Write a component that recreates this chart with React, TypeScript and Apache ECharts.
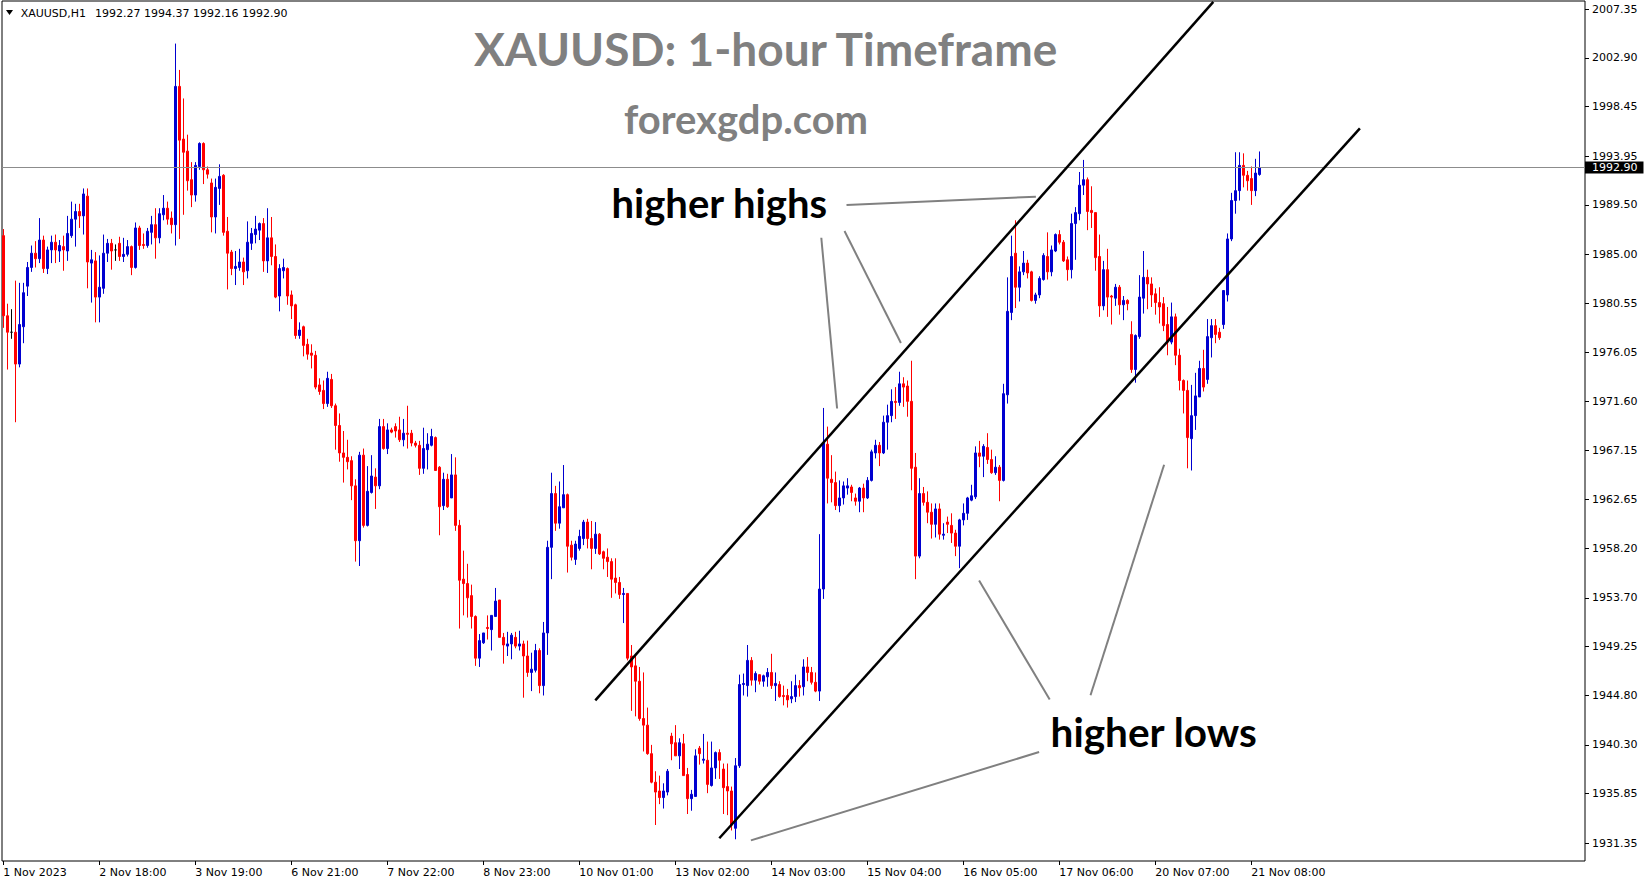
import React, { useEffect, useRef } from "react";
import * as echarts from "echarts";

type Candle = [number, number, number, number]; // open, high, low, close

// 1 Nov - 3 Nov (H1 bars)
const week1: Candle[] = [
  [1986.7, 1987.3, 1978.3, 1979.4], [1979.4, 1980.5, 1974.5, 1977.9], [1977.9, 1980.0, 1977.3, 1977.9],
  [1977.9, 1982.6, 1969.7, 1975.0], [1975.0, 1982.4, 1974.7, 1978.6], [1978.4, 1982.4, 1976.9, 1981.5],
  [1982.1, 1984.3, 1981.2, 1983.8], [1983.8, 1985.8, 1983.4, 1985.1], [1985.1, 1986.2, 1983.8, 1984.6],
  [1984.6, 1988.3, 1984.2, 1986.3], [1986.3, 1986.7, 1983.3, 1983.7], [1983.7, 1985.7, 1983.2, 1985.4],
  [1985.4, 1986.7, 1984.2, 1986.1], [1986.1, 1986.8, 1984.2, 1985.4], [1985.3, 1986.3, 1984.3, 1985.8],
  [1985.7, 1986.7, 1983.5, 1985.4], [1985.3, 1988.5, 1984.4, 1986.9], [1986.7, 1989.8, 1986.5, 1988.2],
  [1988.2, 1989.6, 1985.7, 1988.9], [1988.9, 1989.6, 1987.4, 1988.5], [1988.5, 1991.0, 1986.8, 1990.5],
  [1990.3, 1991.0, 1981.9, 1984.3], [1984.2, 1985.4, 1980.6, 1984.5], [1984.4, 1985.2, 1978.8, 1981.1],
  [1981.1, 1984.9, 1978.8, 1982.0], [1981.9, 1986.8, 1981.4, 1985.1], [1985.1, 1986.4, 1984.3, 1986.0],
  [1986.0, 1986.4, 1983.6, 1985.3], [1985.4, 1985.9, 1984.4, 1985.4], [1986.0, 1986.6, 1984.4, 1984.8],
  [1984.8, 1986.5, 1984.3, 1985.0], [1985.0, 1986.3, 1984.8, 1985.7], [1985.7, 1985.8, 1983.1, 1983.8],
  [1983.8, 1987.9, 1983.7, 1987.4], [1987.4, 1987.6, 1985.4, 1985.8], [1985.9, 1986.9, 1985.5, 1985.8],
  [1985.8, 1987.4, 1985.6, 1987.1], [1987.0, 1988.5, 1985.9, 1987.7], [1987.7, 1989.2, 1984.6, 1986.5],
  [1986.5, 1989.2, 1986.0, 1988.7], [1988.6, 1990.4, 1988.1, 1989.2], [1989.2, 1989.8, 1987.7, 1988.2],
  [1988.3, 1988.9, 1986.9, 1987.7], [1987.7, 2004.2, 1985.8, 2000.3], [2000.3, 2001.8, 1986.4, 1995.4],
  [1995.5, 1999.2, 1988.6, 1994.3], [1994.4, 1995.9, 1990.8, 1991.7], [1991.8, 1993.4, 1989.3, 1990.4],
  [1990.4, 1993.4, 1989.8, 1993.1], [1993.0, 1995.2, 1992.7, 1995.1], [1995.1, 1995.2, 1991.4, 1992.7],
  [1992.7, 1993.0, 1991.9, 1992.3],
];

// 6 Nov - 10 Nov
const week2: Candle[] = [
  [1991.5, 1991.9, 1987.0, 1988.4], [1988.4, 1991.9, 1986.9, 1991.1], [1991.0, 1993.2, 1989.5, 1992.1],
  [1992.2, 1992.3, 1986.7, 1987.0], [1987.1, 1988.4, 1981.8, 1985.1], [1985.2, 1985.4, 1983.1, 1983.7],
  [1983.7, 1985.3, 1982.2, 1983.9], [1983.8, 1985.5, 1983.5, 1984.3], [1984.3, 1984.7, 1982.2, 1983.4],
  [1983.5, 1988.0, 1982.8, 1986.1], [1986.0, 1987.4, 1985.4, 1986.9], [1986.8, 1988.5, 1986.0, 1987.3],
  [1987.2, 1987.9, 1986.3, 1987.8], [1987.8, 1988.3, 1983.4, 1984.4], [1984.4, 1989.2, 1983.3, 1986.5],
  [1986.5, 1988.4, 1984.0, 1984.8], [1984.8, 1985.9, 1981.0, 1981.1], [1981.2, 1984.1, 1979.8, 1983.7],
  [1983.5, 1984.6, 1982.8, 1983.8], [1983.7, 1983.8, 1980.4, 1981.2], [1981.3, 1981.7, 1979.1, 1980.3],
  [1980.4, 1980.5, 1977.3, 1977.6], [1977.6, 1978.8, 1977.3, 1978.1], [1978.4, 1978.5, 1975.7, 1976.7],
  [1976.8, 1977.3, 1975.4, 1975.9], [1976.0, 1976.8, 1974.6, 1975.8], [1975.8, 1976.2, 1972.7, 1972.9],
  [1973.1, 1973.7, 1972.2, 1972.5], [1972.6, 1973.5, 1970.9, 1971.4], [1971.4, 1974.3, 1971.1, 1973.7],
  [1973.6, 1974.1, 1971.0, 1971.2], [1971.2, 1971.4, 1967.2, 1969.4], [1969.4, 1970.5, 1966.1, 1966.9],
  [1966.9, 1968.9, 1964.2, 1966.5], [1966.5, 1968.1, 1965.4, 1966.1], [1966.2, 1966.6, 1962.6, 1963.9],
  [1963.9, 1964.5, 1957.0, 1958.9], [1958.9, 1967.0, 1956.6, 1966.7], [1966.7, 1967.3, 1960.1, 1960.3],
  [1960.3, 1965.7, 1960.2, 1963.4], [1963.3, 1966.7, 1963.2, 1964.8], [1964.7, 1965.5, 1961.8, 1963.9],
  [1963.9, 1970.0, 1963.6, 1969.3], [1969.3, 1970.0, 1967.2, 1967.3], [1967.3, 1969.6, 1966.8, 1969.0],
  [1969.0, 1969.2, 1968.7, 1968.8], [1969.3, 1969.6, 1968.3, 1968.9], [1969.0, 1970.2, 1967.9, 1968.1],
  [1968.1, 1970.0, 1967.5, 1968.7], [1968.7, 1971.2, 1967.3, 1968.6], [1968.7, 1969.0, 1967.5, 1967.8],
  [1967.8, 1968.0, 1967.4, 1967.6], [1967.6, 1968.0, 1964.9, 1965.5], [1965.5, 1969.2, 1965.0, 1967.3],
  [1967.2, 1968.7, 1965.4, 1967.7], [1967.6, 1969.1, 1967.5, 1968.4], [1968.3, 1968.4, 1965.3, 1965.3],
  [1965.6, 1965.7, 1959.4, 1962.0], [1962.1, 1965.1, 1961.7, 1964.5], [1964.5, 1965.0, 1961.9, 1962.0],
  [1962.8, 1966.8, 1962.8, 1964.9], [1964.9, 1966.5, 1959.8, 1960.3], [1960.3, 1960.8, 1950.9, 1955.3],
  [1955.4, 1958.0, 1952.1, 1955.0], [1955.0, 1956.8, 1951.9, 1953.7], [1953.9, 1954.9, 1950.9, 1952.0],
  [1952.0, 1952.1, 1947.5, 1948.2], [1948.2, 1950.4, 1947.4, 1949.8], [1949.6, 1950.5, 1949.5, 1950.5],
  [1951.0, 1952.1, 1949.9, 1950.9], [1950.8, 1952.1, 1948.9, 1952.1], [1952.0, 1954.6, 1952.0, 1953.4],
  [1953.5, 1953.5, 1950.1, 1950.1], [1950.1, 1950.5, 1947.7, 1949.4], [1949.3, 1950.6, 1948.4, 1949.5],
  [1949.5, 1950.5, 1948.1, 1950.3], [1950.1, 1950.6, 1949.1, 1949.3], [1949.3, 1950.7, 1948.9, 1949.5],
  [1949.5, 1949.8, 1944.6, 1948.4], [1948.4, 1949.8, 1946.5, 1946.9], [1946.9, 1948.7, 1945.2, 1947.2],
  [1947.1, 1949.5, 1946.9, 1948.9], [1948.9, 1949.1, 1945.0, 1945.7], [1945.7, 1951.5, 1944.8, 1950.5],
  [1950.5, 1958.9, 1948.5, 1958.3], [1958.3, 1965.1, 1955.4, 1963.2], [1963.2, 1963.9, 1959.8, 1960.5],
  [1960.5, 1964.3, 1960.0, 1962.0], [1961.9, 1965.8, 1961.9, 1963.1], [1963.1, 1963.2, 1956.0, 1958.4],
  [1958.5, 1958.9, 1957.1, 1957.4], [1957.2, 1958.9, 1956.7, 1958.6], [1958.2, 1959.9, 1958.0, 1959.3],
  [1959.1, 1960.8, 1958.5, 1960.6], [1960.6, 1960.9, 1958.2, 1959.1], [1959.1, 1960.7, 1956.3, 1958.2],
  [1958.2, 1960.6, 1957.7, 1959.5], [1959.5, 1959.6, 1957.6, 1957.7], [1957.9, 1958.0, 1956.3, 1957.3],
  [1957.4, 1958.2, 1955.6, 1957.0], [1957.0, 1957.3, 1953.7, 1955.4], [1955.5, 1957.3, 1954.1, 1955.1],
  [1955.1, 1955.6, 1953.6, 1954.0], [1954.0, 1954.6, 1951.4, 1954.1], [1954.1, 1954.1, 1948.0, 1948.2],
  [1948.4, 1949.4, 1943.4, 1947.4], [1947.5, 1948.6, 1942.9, 1946.1], [1946.1, 1947.4, 1942.5, 1942.7],
  [1942.7, 1946.9, 1939.7, 1942.1], [1942.1, 1943.7, 1939.4, 1939.5], [1939.5, 1940.3, 1936.8, 1936.9],
  [1936.9, 1937.9, 1933.0, 1936.0], [1936.1, 1937.5, 1934.9, 1935.5], [1935.5, 1936.8, 1934.5, 1936.1],
  [1936.0, 1938.1, 1935.7, 1937.9],
];

// 13 Nov - 17 Nov
const week3: Candle[] = [
  [1941.1, 1941.4, 1938.9, 1940.4], [1940.5, 1942.1, 1939.3, 1939.3], [1939.3, 1940.9, 1938.1, 1940.5],
  [1940.4, 1941.3, 1937.5, 1937.5], [1937.6, 1938.2, 1934.0, 1935.4], [1935.4, 1936.2, 1934.3, 1935.8],
  [1935.6, 1939.9, 1935.6, 1939.3], [1940.0, 1940.2, 1938.5, 1939.5], [1938.9, 1941.3, 1938.6, 1939.0],
  [1938.9, 1940.6, 1935.9, 1936.7], [1936.6, 1940.6, 1936.5, 1938.2], [1938.2, 1939.7, 1937.2, 1939.6],
  [1939.6, 1939.9, 1937.2, 1938.9], [1938.1, 1938.6, 1934.0, 1936.4], [1936.5, 1938.6, 1933.9, 1936.1],
  [1936.1, 1936.5, 1932.5, 1933.0], [1932.7, 1939.1, 1931.7, 1938.4], [1938.4, 1946.7, 1938.2, 1945.8],
  [1945.8, 1946.8, 1944.8, 1945.9], [1945.7, 1949.4, 1944.7, 1948.0], [1948.0, 1948.3, 1945.7, 1946.2],
  [1946.2, 1947.0, 1945.1, 1946.8], [1946.7, 1946.7, 1945.8, 1946.1], [1946.1, 1946.7, 1945.6, 1946.6],
  [1946.5, 1947.3, 1945.6, 1946.9], [1946.9, 1948.6, 1945.4, 1945.7], [1945.7, 1946.9, 1944.3, 1945.9],
  [1945.8, 1946.1, 1944.6, 1944.7], [1944.8, 1945.7, 1943.9, 1944.7], [1944.8, 1945.4, 1943.7, 1944.4],
  [1944.5, 1946.1, 1944.1, 1944.7], [1944.7, 1946.7, 1944.2, 1945.7], [1945.7, 1946.2, 1944.7, 1945.5],
  [1945.6, 1948.1, 1944.8, 1947.4], [1947.4, 1948.3, 1946.1, 1946.9], [1946.9, 1947.4, 1945.8, 1946.0],
  [1946.0, 1946.9, 1945.1, 1945.2], [1945.2, 1959.5, 1944.3, 1954.5], [1954.5, 1971.0, 1953.6, 1967.8],
  [1967.7, 1969.3, 1962.3, 1964.6], [1964.5, 1966.7, 1962.4, 1964.2], [1964.2, 1965.2, 1961.7, 1962.1],
  [1962.1, 1964.4, 1961.5, 1962.8], [1962.8, 1964.3, 1962.2, 1963.9], [1963.7, 1964.6, 1963.1, 1963.9],
  [1963.8, 1964.0, 1962.5, 1963.3], [1962.8, 1963.2, 1962.1, 1962.5], [1962.5, 1963.8, 1961.5, 1963.7],
  [1963.7, 1964.1, 1961.5, 1962.8], [1962.8, 1964.7, 1962.7, 1964.4], [1964.4, 1967.2, 1964.3, 1967.0],
  [1966.9, 1968.1, 1966.4, 1967.6], [1967.6, 1967.9, 1965.7, 1966.9], [1966.9, 1970.3, 1966.8, 1969.7],
  [1969.7, 1971.3, 1967.2, 1970.3], [1970.3, 1972.7, 1969.7, 1971.6], [1971.6, 1972.9, 1970.0, 1971.5],
  [1971.5, 1974.3, 1971.2, 1973.2], [1973.2, 1973.8, 1971.1, 1972.9], [1973.0, 1973.5, 1970.2, 1971.6],
  [1971.6, 1975.3, 1963.5, 1965.5], [1965.6, 1966.9, 1955.4, 1957.5], [1957.5, 1964.6, 1957.3, 1963.2],
  [1963.2, 1963.8, 1962.1, 1962.4], [1962.4, 1963.4, 1960.5, 1961.5], [1961.5, 1962.3, 1959.1, 1960.4],
  [1960.4, 1962.3, 1959.2, 1961.8], [1961.8, 1962.3, 1959.0, 1959.5], [1959.4, 1960.5, 1959.0, 1959.5],
  [1960.6, 1961.1, 1959.6, 1960.4], [1960.3, 1961.4, 1958.7, 1959.6], [1959.6, 1959.9, 1957.5, 1958.4],
  [1958.4, 1960.9, 1956.4, 1960.8], [1960.8, 1962.3, 1960.3, 1961.4], [1961.4, 1962.9, 1960.8, 1962.8],
  [1962.6, 1964.0, 1962.5, 1963.0], [1962.9, 1967.5, 1962.7, 1966.9], [1966.9, 1968.0, 1965.6, 1966.6],
  [1966.6, 1967.7, 1964.7, 1967.5], [1967.4, 1968.7, 1965.9, 1966.3], [1966.3, 1967.2, 1965.0, 1965.1],
  [1965.1, 1966.6, 1964.9, 1965.6], [1965.6, 1965.8, 1962.5, 1964.4], [1964.4, 1973.2, 1964.3, 1972.3],
  [1972.2, 1982.9, 1971.4, 1979.8], [1979.7, 1986.7, 1979.0, 1984.8], [1985.1, 1988.1, 1980.1, 1982.0],
  [1982.0, 1983.9, 1980.7, 1983.4], [1983.4, 1985.3, 1983.1, 1984.2], [1984.2, 1984.5, 1982.8, 1983.3],
  [1983.4, 1983.5, 1980.7, 1980.8], [1980.8, 1981.5, 1980.5, 1981.3], [1981.3, 1983.0, 1981.0, 1982.8],
  [1982.7, 1985.1, 1982.6, 1984.9], [1984.8, 1987.0, 1982.7, 1983.4], [1983.4, 1985.8, 1983.0, 1985.4],
  [1985.3, 1986.9, 1985.2, 1986.8], [1986.8, 1987.2, 1985.9, 1986.1], [1986.1, 1986.3, 1984.3, 1984.4],
  [1984.5, 1984.8, 1982.6, 1983.6], [1983.6, 1988.7, 1982.8, 1987.8], [1987.8, 1989.3, 1984.5, 1988.8],
  [1988.7, 1992.5, 1988.1, 1991.3], [1991.3, 1993.6, 1990.4, 1991.8], [1991.8, 1992.0, 1987.2, 1988.9],
  [1989.0, 1991.2, 1987.4, 1988.8], [1988.8, 1988.8, 1983.5, 1984.7], [1984.8, 1986.8, 1979.3, 1980.3],
  [1980.3, 1984.4, 1979.9, 1983.6], [1983.6, 1985.5, 1979.3, 1981.1], [1981.2, 1981.3, 1978.6, 1981.1],
  [1981.0, 1982.3, 1980.3, 1982.0], [1982.0, 1982.2, 1979.5, 1980.4], [1980.4, 1981.2, 1979.0, 1980.8],
  [1980.8, 1980.9, 1979.9, 1980.5],
];

// 20 Nov - 21 Nov
const week4: Candle[] = [
  [1977.7, 1978.9, 1974.2, 1974.5], [1974.5, 1977.7, 1973.3, 1977.6], [1977.5, 1983.1, 1977.3, 1981.1],
  [1981.0, 1985.3, 1979.6, 1982.9], [1982.9, 1983.6, 1980.0, 1982.3], [1982.3, 1982.9, 1980.2, 1981.3],
  [1981.4, 1981.9, 1979.5, 1980.6], [1980.6, 1982.0, 1978.7, 1980.2], [1980.5, 1981.1, 1978.0, 1978.5],
  [1978.6, 1980.2, 1975.8, 1977.0], [1977.0, 1980.6, 1976.8, 1979.3], [1979.3, 1979.6, 1974.9, 1975.8],
  [1975.8, 1976.4, 1972.6, 1973.5], [1973.5, 1973.6, 1970.5, 1972.6], [1972.6, 1973.5, 1965.5, 1968.3],
  [1968.2, 1973.1, 1965.3, 1970.3], [1970.3, 1974.2, 1969.0, 1972.1], [1972.0, 1975.3, 1972.0, 1974.6],
  [1974.6, 1976.3, 1972.5, 1972.9], [1973.6, 1979.1, 1973.2, 1977.5], [1977.4, 1979.1, 1975.6, 1978.5],
  [1978.5, 1979.1, 1976.9, 1977.7], [1977.9, 1978.3, 1977.2, 1977.4], [1978.6, 1981.7, 1978.2, 1981.7],
  [1981.3, 1986.9, 1980.7, 1986.4], [1986.4, 1990.6, 1986.2, 1989.9], [1989.9, 1994.3, 1988.7, 1990.8],
  [1990.8, 1994.3, 1989.9, 1993.1], [1993.1, 1994.2, 1991.1, 1992.2], [1992.2, 1992.6, 1990.8, 1991.7],
  [1991.9, 1993.0, 1989.5, 1990.8], [1990.8, 1993.7, 1990.3, 1992.4], [1992.27, 1994.37, 1992.16, 1992.9],
];

const xTickBars = [0, 24, 48, 72, 96, 120, 144, 168, 192, 216, 240, 264, 288, 312];
const xTickLabels = [
  "1 Nov 2023", "2 Nov 18:00", "3 Nov 19:00", "6 Nov 21:00", "7 Nov 22:00", "8 Nov 23:00", "10 Nov 01:00",
  "13 Nov 02:00", "14 Nov 03:00", "15 Nov 04:00", "16 Nov 05:00", "17 Nov 06:00", "20 Nov 07:00", "21 Nov 08:00",
];
const yTickValues = [
  2007.35, 2002.9, 1998.45, 1993.95, 1989.5, 1985.0, 1980.55, 1976.05, 1971.6, 1967.15,
  1962.65, 1958.2, 1953.7, 1949.25, 1944.8, 1940.3, 1935.85, 1931.35,
];

// trend channel: [barIndex, price] anchors
const channelLines: [number, number][][] = [
  [[148.0, 1944.35], [302.5, 2008.0]],
  [[179.0, 1931.79], [339.15, 1996.48]],
];
// grey pointer lines of the annotations
const pointerLines: [number, number][][] = [
  [[210.8, 1989.49], [258.15, 1990.25]],
  [[204.5, 1986.51], [208.45, 1970.95]],
  [[210.3, 1987.12], [224.4, 1976.92]],
  [[243.95, 1955.27], [261.6, 1944.44]],
  [[271.8, 1944.82], [290.2, 1965.82]],
  [[186.9, 1931.6], [258.95, 1939.65]],
];

const candles: Candle[] = [...week1, ...week2, ...week3, ...week4];

export default function App() {
  const ref = useRef<HTMLDivElement>(null);
  useEffect(() => {
    document.body.style.margin = "0";
    if (!ref.current) return;
    const chart = echarts.init(ref.current, undefined, { renderer: "svg" });
    const seriesData = candles.map((c, i) => [i, c[0], c[3], c[2], c[1]]);
    const last = candles[candles.length - 1];
    const lastClose = last[3];
    const axisFont = "DejaVu Sans";
    const option: any = {
      animation: false,
      backgroundColor: "#ffffff",
      grid: { left: 2, right: 64, top: 1, bottom: 23, show: true, borderColor: "#000", borderWidth: 1, backgroundColor: "transparent" },
      xAxis: {
        type: "value",
        min: -0.325,
        max: 395.425,
        splitLine: { show: false },
        axisLine: { show: false, onZero: false },
        axisTick: { show: true, customValues: xTickBars, length: 4, lineStyle: { color: "#000" } },
        axisLabel: {
          customValues: xTickBars,
          formatter: (v: number) => {
            const k = xTickBars.indexOf(Math.round(v));
            return k >= 0 ? xTickLabels[k] : "";
          },
          align: "left",
          margin: 6,
          color: "#000",
          fontSize: 11,
          fontFamily: axisFont,
        },
      },
      yAxis: {
        type: "value",
        position: "right",
        min: 1929.72,
        max: 2008.08,
        splitLine: { show: false },
        axisLine: { show: false, onZero: false },
        axisTick: { show: true, customValues: yTickValues, length: 4, lineStyle: { color: "#000" } },
        axisLabel: {
          customValues: yTickValues,
          formatter: (v: number) => v.toFixed(2),
          margin: 7,
          color: "#000",
          fontSize: 11,
          fontFamily: axisFont,
        },
      },
      series: [
        {
          type: "candlestick",
          data: seriesData,
          encode: { x: 0, y: [1, 2, 3, 4] },
          barWidth: 2,
          silent: true,
          itemStyle: {
            color: "#0000d0",
            color0: "#ff0000",
            borderColor: "#0000d0",
            borderColor0: "#ff0000",
            borderColorDoji: "#000000",
            borderWidth: 1,
          },
          markLine: {
            silent: true,
            symbol: ["none", "none"],
            animation: false,
            label: { show: false },
            data: [
              {
                yAxis: lastClose,
                lineStyle: { color: "#8c8c8c", width: 1, type: "solid" },
                label: {
                  show: true,
                  position: "end",
                  distance: 0,
                  formatter: lastClose.toFixed(2),
                  backgroundColor: "#000",
                  color: "#fff",
                  padding: [1, 6, 0, 7],
                  fontSize: 11,
                  fontFamily: axisFont,
                },
              },
              ...channelLines.map((l) => [
                { coord: l[0], lineStyle: { color: "#000", width: 2.5, type: "solid" } },
                { coord: l[1], lineStyle: { color: "#000", width: 2.5, type: "solid" } },
              ]),
              ...pointerLines.map((l) => [
                { coord: l[0], lineStyle: { color: "#808080", width: 2, type: "solid" } },
                { coord: l[1], lineStyle: { color: "#808080", width: 2, type: "solid" } },
              ]),
            ],
          },
        },
      ],
      graphic: [
        { type: "polygon", shape: { points: [[6, 10], [13, 10], [9.5, 15]] }, style: { fill: "#000" } },
        {
          type: "text", x: 20.7, y: 13,
          style: { text: "XAUUSD,H1", font: `11px "${axisFont}"`, fill: "#000", verticalAlign: "middle", textVerticalAlign: "middle" },
        },
        {
          type: "text", x: 95, y: 13,
          style: {
            text: `${last[0].toFixed(2)} ${last[1].toFixed(2)} ${last[2].toFixed(2)} ${last[3].toFixed(2)}`,
            font: `11px "${axisFont}"`, fill: "#000", verticalAlign: "middle", textVerticalAlign: "middle",
          },
        },
        {
          type: "text", x: 765.6, y: 48,
          style: { text: "XAUUSD: 1-hour Timeframe", font: "bold 46px Lato", fill: "#808080", align: "center", textAlign: "center", verticalAlign: "middle", textVerticalAlign: "middle" },
        },
        {
          type: "text", x: 746, y: 119,
          style: { text: "forexgdp.com", font: "bold 40px Lato", fill: "#808080", align: "center", textAlign: "center", verticalAlign: "middle", textVerticalAlign: "middle" },
        },
        {
          type: "text", x: 611.5, y: 203,
          style: { text: "higher highs", font: "bold 40px Lato", fill: "#000", align: "left", textAlign: "left", verticalAlign: "middle", textVerticalAlign: "middle" },
        },
        {
          type: "text", x: 1050.6, y: 731,
          style: { text: "higher lows", font: "bold 40.5px Lato", fill: "#000", align: "left", textAlign: "left", verticalAlign: "middle", textVerticalAlign: "middle" },
        },
      ],
    };
    chart.setOption(option);
    return () => chart.dispose();
  }, []);
  return <div ref={ref} style={{ width: 1649, height: 884 }} />;
}
